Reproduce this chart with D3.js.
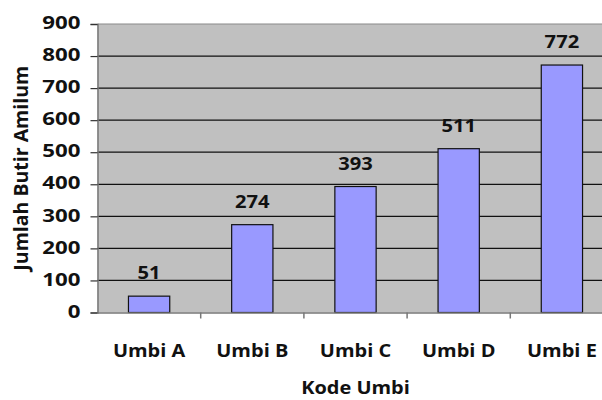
<!DOCTYPE html>
<html>
<head>
<meta charset="utf-8">
<script src="https://cdn.jsdelivr.net/npm/d3@7"></script>
<style>
  html, body { margin: 0; padding: 0; background: #fff; }
  svg { display: block; }
  text { font-family: "Open Sans", sans-serif; font-weight: 700; fill: #111; }
</style>
</head>
<body>
<svg id="chart" width="602" height="400"></svg>
<script>
const categories = ["Umbi A", "Umbi B", "Umbi C", "Umbi D", "Umbi E"];
const values = [51, 274, 393, 511, 772];
const yTicks = [0, 100, 200, 300, 400, 500, 600, 700, 800, 900];
const yTitle = "Jumlah Butir Amilum";
const xTitle = "Kode Umbi";

const W = 602, H = 400;
const plot = { left: 97.5, right: 613.5, top: 24, bottom: 312.5 };
const svg = d3.select("#chart");

const x = d3.scaleBand().domain(categories).range([plot.left, plot.right]).padding(0);
const y = d3.scaleLinear().domain([0, 900]).range([plot.bottom, plot.top]);
const barW = x.bandwidth() * 0.4;
const SX = 1.25;

// plot background
svg.append("rect")
  .attr("x", plot.left).attr("y", plot.top)
  .attr("width", plot.right - plot.left).attr("height", plot.bottom - plot.top)
  .attr("fill", "#c0c0c0");

// gridlines
svg.append("g").selectAll("line").data(yTicks.filter(d => d > 0 && d < 900)).join("line")
  .attr("x1", plot.left).attr("x2", plot.right)
  .attr("y1", d => y(d)).attr("y2", d => y(d))
  .attr("stroke", "#111").attr("stroke-width", 1.2);

// top border
svg.append("line").attr("x1", plot.left).attr("x2", plot.right)
  .attr("y1", y(900)).attr("y2", y(900)).attr("stroke", "#8a8a8a").attr("stroke-width", 1.2);

// bars
svg.append("g").selectAll("rect").data(values).join("rect")
  .attr("x", (d, i) => x(categories[i]) + (x.bandwidth() - barW) / 2)
  .attr("y", d => y(d))
  .attr("width", barW)
  .attr("height", d => y(0) - y(d))
  .attr("fill", "#9999ff").attr("stroke", "#111").attr("stroke-width", 1.2);

// y axis
const yAxis = d3.axisLeft(y).tickValues(yTicks).tickSize(7).tickPadding(10).tickFormat(d3.format("d"));
const gy = svg.append("g").attr("transform", `translate(${plot.left},0)`).call(yAxis);
gy.select(".domain").attr("stroke", "#777").attr("stroke-width", 1.5);
gy.selectAll(".tick line").attr("stroke", "#333").attr("stroke-width", 1.2);
gy.selectAll(".tick text")
  .attr("font-size", 17.8)
  .attr("text-anchor", "end")
  .each(function() {
    const t = d3.select(this);
    const xx = +t.attr("x");
    t.attr("x", null)
     .attr("transform", `translate(${xx},-1) scale(${SX},1)`);
  });
gy.attr("font-family", null).attr("font-size", null);

// x axis
const xAxis = d3.axisBottom(x).tickSize(0).tickPadding(0).tickFormat(d => d);
const gx = svg.append("g").attr("transform", `translate(0,${plot.bottom})`).call(xAxis);
gx.select(".domain").attr("stroke", "#777").attr("stroke-width", 1.5);
gx.attr("font-family", null).attr("font-size", null);
gx.selectAll(".tick text")
  .attr("font-size", 18.5).attr("dy", null).attr("y", null)
  .attr("transform", `translate(0,44) scale(1.08,1)`);
// category boundary ticks
svg.append("g").selectAll("line").data(categories.slice(1)).join("line")
  .attr("x1", d => x(d)).attr("x2", d => x(d))
  .attr("y1", plot.bottom).attr("y2", plot.bottom + 6)
  .attr("stroke", "#777").attr("stroke-width", 1.5);

// data labels
svg.append("g").selectAll("text").data(values).join("text")
  .attr("text-anchor", "middle")
  .attr("font-size", 18)
  .attr("transform", (d, i) => `translate(${x(categories[i]) + x.bandwidth() / 2},${y(d) - 17}) scale(1.12,1)`)
  .text(d => d);

// axis titles
svg.append("text")
  .attr("text-anchor", "middle").attr("font-size", 19.5)
  .attr("transform", `translate(28,${(plot.top + plot.bottom) / 2}) rotate(-90)`)
  .text(yTitle);
svg.append("text")
  .attr("text-anchor", "middle").attr("font-size", 18.5)
  .attr("transform", `translate(${(plot.left + plot.right) / 2},394) scale(1.08,1)`)
  .text(xTitle);
</script>
</body>
</html>
